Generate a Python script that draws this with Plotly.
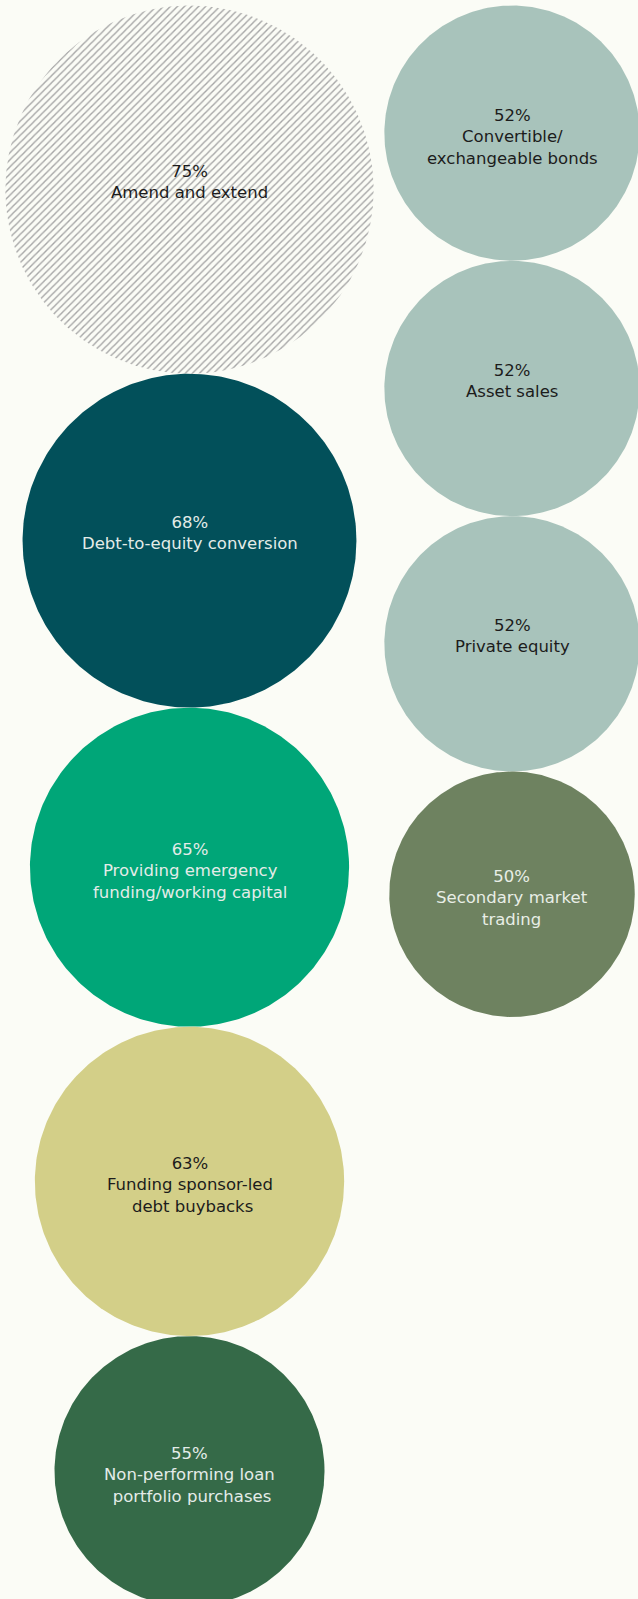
import numpy as np
import plotly.graph_objects as go

# Share of respondents by restructuring approach
left_labels = [
    "Amend and extend",
    "Debt-to-equity conversion",
    "Providing emergency<br>funding/working capital",
    "Funding sponsor-led<br> debt buybacks",
    "Non-performing loan<br> portfolio purchases",
]
left_values = [75, 68, 65, 63, 55]

right_labels = [
    "Convertible/<br>exchangeable bonds",
    "Asset sales",
    "Private equity",
    "Secondary market<br>trading",
]
right_values = [52, 52, 52, 50]

left_colors = ["hatch", "#02505a", "#00a678", "#d3cf88", "#356a48"]
right_colors = ["#a8c3bb", "#a8c3bb", "#a8c3bb", "#6e8260"]
left_text = ["#1c1c1c", "#e4ece8", "#e4ece8", "#1c1c1c", "#e4ece8"]
right_text = ["#1c1c1c", "#1c1c1c", "#1c1c1c", "#e8eee6"]

BG = "#fbfcf6"
W, H = 638, 1599
PX_PER_PCT = 2.455     # circle radius per percentage point
COL_X = [189.5, 512.0]
TOP = 5.5

fig = go.Figure()
theta = np.linspace(0, 2 * np.pi, 361)


def add_column(cx, labels, values, colors, tcolors):
    y = TOP
    for lab, val, col, tc in zip(labels, values, colors, tcolors):
        r = val * PX_PER_PCT
        cy = y + r
        xs = cx + r * np.cos(theta)
        ys = cy + r * np.sin(theta)
        if col == "hatch":
            fig.add_trace(go.Scatter(
                x=xs, y=ys, mode="lines", fill="toself",
                line=dict(width=0, color=BG),
                fillcolor=BG,
                fillpattern=dict(shape="/", size=5, solidity=0.28,
                                 fgcolor="#a6a6a6", bgcolor=BG, fillmode="replace"),
                hoverinfo="skip", showlegend=False,
            ))
        else:
            fig.add_trace(go.Scatter(
                x=xs, y=ys, mode="lines", fill="toself",
                line=dict(width=0, color=col), fillcolor=col,
                hoverinfo="skip", showlegend=False,
            ))
        fig.add_annotation(
            x=cx, y=cy - 29.5, yanchor="top", xanchor="center",
            text=f"{val}%<br>{lab}", showarrow=False, align="center",
            font=dict(family="DejaVu Sans", size=16.5, color=tc),
        )
        y = cy + r


add_column(COL_X[0], left_labels, left_values, left_colors, left_text)
add_column(COL_X[1], right_labels, right_values, right_colors, right_text)

fig.update_layout(
    width=W, height=H,
    margin=dict(l=0, r=0, t=0, b=0),
    paper_bgcolor=BG, plot_bgcolor=BG,
    xaxis=dict(range=[0, W], visible=False, fixedrange=True),
    yaxis=dict(range=[H, 0], visible=False, fixedrange=True),
    showlegend=False,
)

fig.write_html("out.html")
